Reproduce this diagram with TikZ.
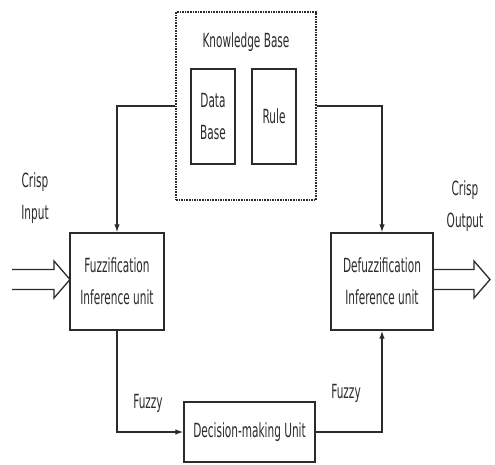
\documentclass[tikz,border=0pt]{standalone}
\usepackage{fontspec}
\setmainfont{DejaVu Sans}[FakeStretch=0.54]
\usepackage{tikz}
\usetikzlibrary{arrows.meta,positioning,calc}
\definecolor{ink}{HTML}{2B2B2B}
\newcommand{\fatarrow}[3]{
    \pgfmathsetmacro{\ax}{#1}
    \pgfmathsetmacro{\bx}{#2}
    \pgfmathsetmacro{\ay}{#3}
    \draw[fat] (\ax, \ay-10) -- (\bx-16, \ay-10) -- (\bx-16, \ay-18.5) --
    (\bx, \ay) -- (\bx-16, \ay+18.5) -- (\bx-16, \ay+10) -- (\ax, \ay+10);
}
\tikzset{
    every node/.style={text=ink, font=\fontsize{19.5}{32}\selectfont},
    unit/.style={draw=ink, line width=1.4pt, align=center, inner sep=0pt},
    kbase/.style={draw=ink, densely dotted, line width=1.6pt, inner sep=0pt},
    conn/.style={draw=ink, line width=1.3pt, -{Latex[length=8pt,width=5.5pt]}},
    fat/.style={draw=ink, line width=1.3pt},
}

\begin{document}
\begin{tikzpicture}[x=1pt, y=-1pt]
        \useasboundingbox (0,0) rectangle (495,464);

        % knowledge base
        \node[kbase, minimum width=140, minimum height=188] (kb) at (246,106) {};
        \node (kbtitle) at (246,42) {Knowledge Base};
        \node[unit, minimum width=44, minimum height=95] (db) at (213,116.5) {Data\\Base};
        \node[unit, minimum width=44, minimum height=95] (rule) at (274,116.5) {Rule};

        % units
        \node[unit, minimum width=94, minimum height=97] (fuzz) at (117,281.5)
        {Fuzzification\\Inference unit};
        \node[unit, minimum width=102, minimum height=97] (defuzz) at (382,281.5)
        {Defuzzification\\Inference unit};
        \node[unit, minimum width=131, minimum height=60] (dmu) at (249.5,432)
        {Decision-making Unit};

        \node[align=center] (cin) at (35,198) {Crisp\\Input};
        \node[align=center] (cout) at (465,206) {Crisp\\Output};
        \node (fzl) at (148,403) {Fuzzy};
        \node (fzr) at (346,393) {Fuzzy};

        \draw[conn] (kb.west) -| (fuzz.north);
        \draw[conn] (kb.east) -| (defuzz.north);
        \draw[conn] (fuzz.south) |- (dmu.west);
        \draw[conn] (dmu.east) -| (defuzz.south);

        \fatarrow{12}{70}{279.5};
        \fatarrow{433}{490}{279.5};
\end{tikzpicture}
\end{document}
